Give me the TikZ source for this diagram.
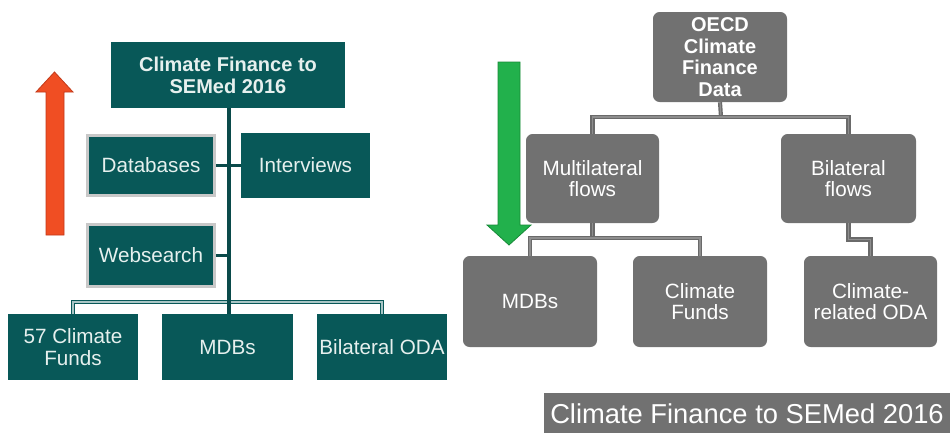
\documentclass[tikz,border=0pt]{standalone}
\usepackage{fontspec}
\setmainfont{Liberation Sans}
\usetikzlibrary{calc}
\definecolor{teal1}{HTML}{085858}
\definecolor{tealline}{HTML}{0A4A4A}
\definecolor{tealtxt}{HTML}{E6F0EE}
\definecolor{gborder}{HTML}{C8C8C8}
\definecolor{gbox}{HTML}{717171}
\definecolor{gline}{HTML}{6A6A6A}
\definecolor{glineinner}{HTML}{8E8E8E}
\definecolor{redarrow}{HTML}{F04E23}
\definecolor{redarrowd}{HTML}{C23A1A}
\definecolor{grnarrow}{HTML}{22B14C}
\definecolor{grnarrowd}{HTML}{178A38}
\tikzset{
  sz/.style 2 args={minimum width=#1*0.75pt, minimum height=#2*0.75pt},
  tealbox/.style={fill=teal1, text=tealtxt, inner sep=1pt, align=center,
    font=\fontsize{15.5}{16.5}\selectfont},
  tealbord/.style={tealbox, draw=gborder, line width=2.2pt},
  graybox/.style={fill=gbox, text=white, rounded corners=5pt, inner sep=1pt,
    align=center, font=\fontsize{15.5}{16.3}\selectfont},
  trunk/.style={draw=tealline, line width=2.5pt},
  tealbus/.style={draw=teal1, line width=1pt, double=teal1!35!white, double distance=0.9pt},
  graybus/.style={draw=gline, line width=1.1pt, double=glineinner, double distance=0.9pt},
}
\begin{document}
\begin{tikzpicture}[x=0.75pt, y=-0.75pt]
\useasboundingbox (0,0) rectangle (950,433);
\fill[white] (0,0) rectangle (950,433);

% ---------- left diagram ----------
\node[tealbox, sz={234}{66}, font=\bfseries\fontsize{15}{16.5}\selectfont] (title) at (228,75) {Climate Finance to\\SEMed 2016};
\node[tealbord, sz={127}{60}] (db) at (151,165.5) {Databases};
\node[tealbox, sz={129}{65}] (iv) at (305.5,165.5) {Interviews};
\node[tealbord, sz={127}{62}] (ws) at (151,255.5) {Websearch};
\node[tealbox, sz={130}{66}] (cf) at (73,347) {57 Climate\\Funds};
\node[tealbox, sz={131}{66}] (mdbL) at (227.5,347) {MDBs};
\node[tealbox, sz={130}{66}] (bo) at (382,347) {Bilateral ODA};

\coordinate (bus) at (229,302);
\draw[tealbus] (cf.north) |- (bus) -| (bo.north);
\draw[trunk] (title.south -| bus) -- (bus |- mdbL.north);
\draw[trunk] (db.east) -- (iv.west);
\draw[trunk] (ws.east) -- (ws.east -| bus);

% red arrow
\draw[fill=redarrow, draw=redarrowd, line width=0.6pt, line join=miter]
  (46,235) -- (46,92) -- (36,92) -- (54.5,72) -- (73,92) -- (64,92) -- (64,235) -- cycle;

% ---------- right diagram ----------
\node[graybox, sz={134}{90}, font=\bfseries\fontsize{15}{16.2}\selectfont] (oecd) at (720,57) {OECD\\Climate\\Finance\\Data};
\node[graybox, sz={133}{89}] (multi) at (592.5,178.5) {Multilateral\\flows};
\node[graybox, sz={135}{89}] (bil) at (848.5,178.5) {Bilateral\\flows};
\node[graybox, sz={134}{91}] (mdbR) at (530,301.5) {MDBs};
\node[graybox, sz={134}{91}] (cfR) at (700,301.5) {Climate\\Funds};
\node[graybox, sz={133}{91}] (croda) at (870.5,301.5) {Climate-\\related ODA};

\coordinate (j1) at (721,117);
\coordinate (j2) at (592.5,238);
\draw[graybus] (oecd.south) -- (j1);
\draw[graybus] (multi.north) |- (j1) -| (bil.north);
\draw[graybus] (multi.south) -- (j2);
\draw[graybus] (mdbR.north) |- (j2) -| (cfR.north);
\draw[graybus] (bil.south) |- ($(bil.south)!0.5!(croda.north)$) -| (croda.north);

% green arrow
\draw[fill=grnarrow, draw=grnarrowd, line width=0.6pt, line join=miter]
  (498,62) -- (520,62) -- (520,225) -- (531,225) -- (509,245) -- (487,225) -- (498,225) -- cycle;

% bottom title bar
\fill[gbox] (544,393) rectangle (950,433);
\node[text=white, font=\fontsize{20.5}{22}\selectfont, inner sep=0pt] (bar) at (747,414) {Climate Finance to SEMed 2016};
\end{tikzpicture}
\end{document}
